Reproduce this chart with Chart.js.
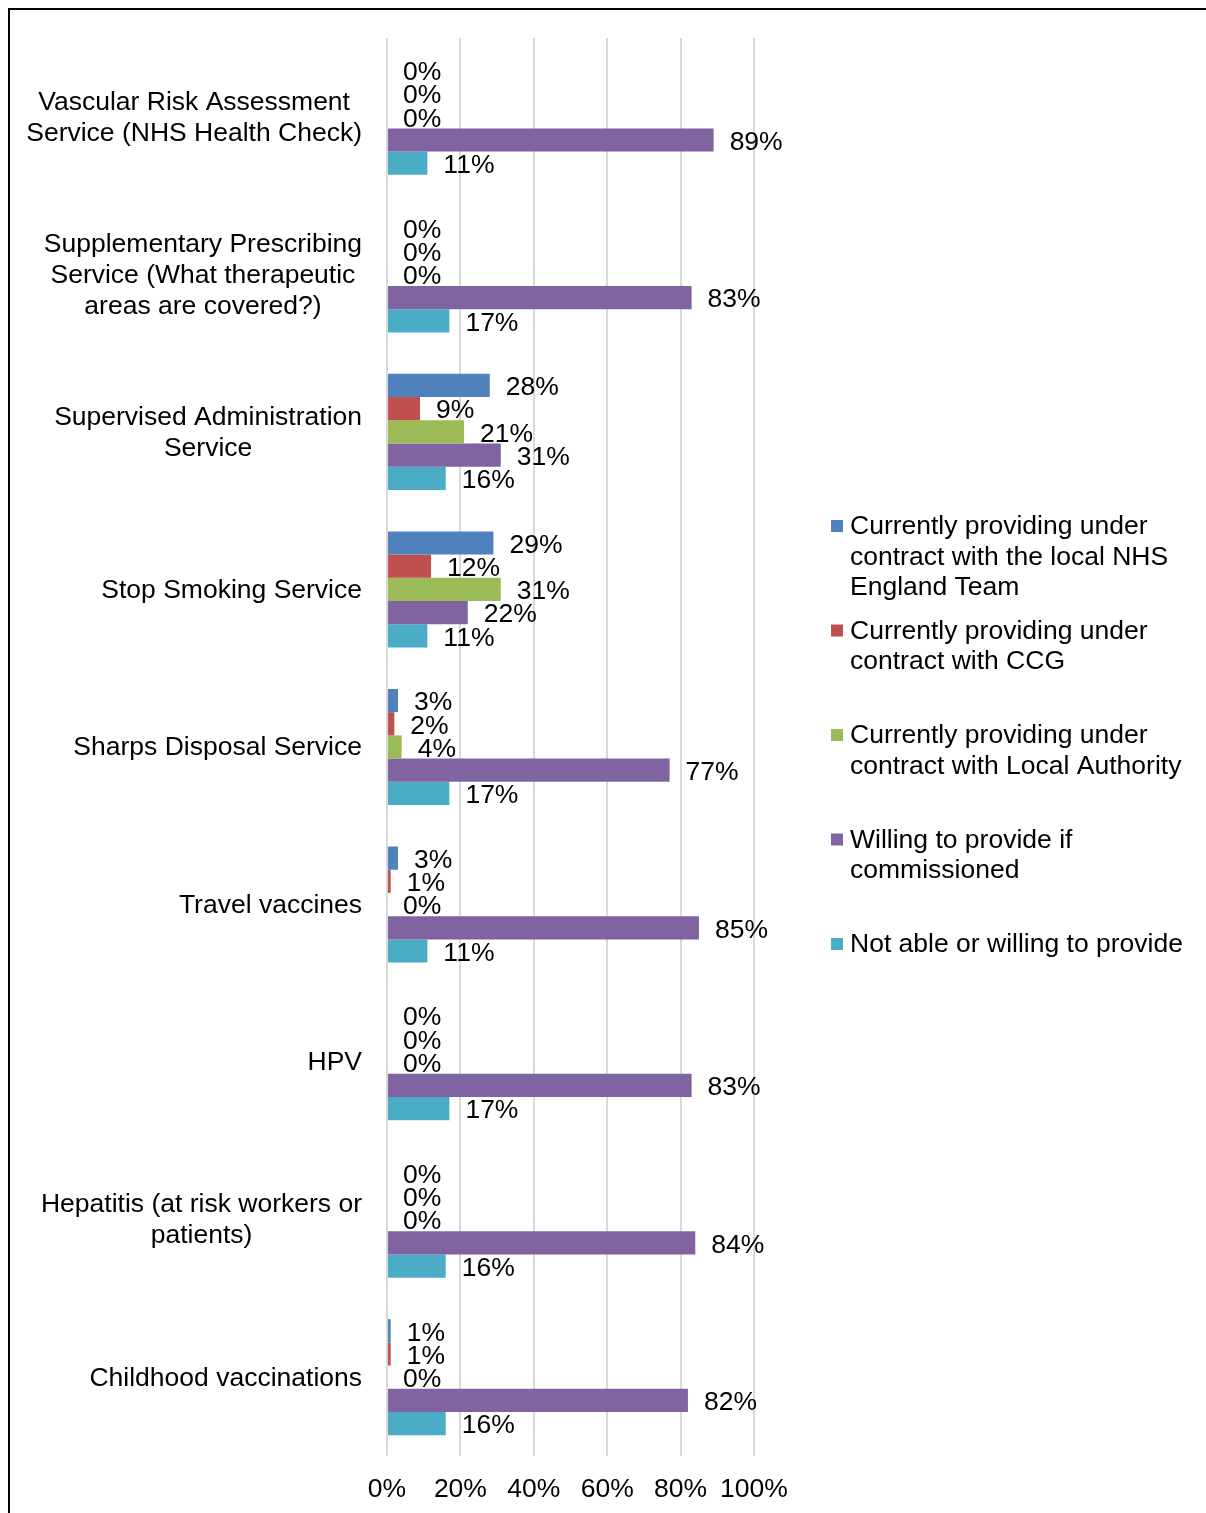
<!DOCTYPE html>
<html>
<head>
<meta charset="utf-8">
<title>Services</title>
<script src="https://cdn.jsdelivr.net/npm/chart.js@4.4.1/dist/chart.umd.min.js"></script>
<style>
  html, body { margin: 0; padding: 0; background: #fff; }
  #wrap { position: relative; width: 1206px; height: 1513px; overflow: hidden; }
  #frame { position: absolute; left: 8px; top: 8px; width: 1400px; height: 1700px;
           border-top: 2px solid #000; border-left: 2px solid #000; pointer-events: none; }
</style>
</head>
<body>
<div id="wrap">
  <canvas id="chart"></canvas>
  <div id="frame"></div>
</div>
<script>
const categories = [
  ["Vascular Risk Assessment", "Service (NHS Health Check)"],
  ["Supplementary Prescribing", "Service (What therapeutic", "areas are covered?)"],
  ["Supervised Administration", "Service"],
  ["Stop Smoking Service"],
  ["Sharps Disposal Service"],
  ["Travel vaccines"],
  ["HPV"],
  ["Hepatitis (at risk workers or", "patients)"],
  ["Childhood vaccinations"]
];

const seriesNames = [
  ["Currently providing under", "contract with the local NHS", "England Team"],
  ["Currently providing under", "contract with CCG"],
  ["Currently providing under", "contract with Local Authority"],
  ["Willing to provide if", "commissioned"],
  ["Not able or willing to provide"]
];

const nhsEngland    = [0, 0, 28, 29, 3, 3, 0, 0, 1];
const ccg           = [0, 0, 9, 12, 2, 1, 0, 0, 1];
const localAuth     = [0, 0, 21, 31, 4, 0, 0, 0, 0];
const willing       = [89, 83, 31, 22, 77, 85, 83, 84, 82];
const notAble       = [11, 17, 16, 11, 17, 11, 17, 16, 16];

const xTicks = [0, 20, 40, 60, 80, 100];

const colors = ["#4F81BD", "#C0504D", "#9BBB59", "#8064A2", "#4BACC6"];
const FONT = '"Liberation Sans", Arial, sans-serif';
const TEXT = "26.5px " + FONT;

const seriesData = [nhsEngland, ccg, localAuth, willing, notAble];

// value labels to the right of each bar
const barLabels = {
  id: "barLabels",
  afterDatasetsDraw(chart) {
    const ctx = chart.ctx;
    ctx.save();
    ctx.font = TEXT;
    ctx.fillStyle = "#000";
    ctx.textAlign = "left";
    ctx.textBaseline = "middle";
    chart.data.datasets.forEach((ds, di) => {
      chart.getDatasetMeta(di).data.forEach((bar, i) => {
        ctx.fillText(ds.data[i] + "%", bar.x + 16, bar.y + 2.5);
      });
    });
    ctx.restore();
  }
};

// category names: lines centred on each other, block right-aligned to the axis
const catLabels = {
  id: "catLabels",
  afterDraw(chart) {
    const ctx = chart.ctx;
    const yScale = chart.scales.y;
    const right = chart.chartArea.left - 25;
    ctx.save();
    ctx.font = TEXT;
    ctx.fillStyle = "#000";
    ctx.textAlign = "center";
    ctx.textBaseline = "middle";
    categories.forEach((lines, i) => {
      const w = Math.max(...lines.map(l => ctx.measureText(l).width));
      const cx = right - w / 2;
      const cy = yScale.getPixelForValue(i);
      lines.forEach((l, k) => {
        ctx.fillText(l, cx, cy + (k - (lines.length - 1) / 2) * 31 + 1);
      });
    });
    ctx.restore();
  }
};

// legend on the right with wrapped entries
const sideLegend = {
  id: "sideLegend",
  afterDraw(chart) {
    const ctx = chart.ctx;
    ctx.save();
    ctx.font = TEXT;
    ctx.textAlign = "left";
    ctx.textBaseline = "middle";
    chart.data.datasets.forEach((ds, i) => {
      const y0 = 526 + i * 104.5;
      ctx.fillStyle = ds.backgroundColor;
      ctx.fillRect(831, y0 - 6, 12, 12);
      ctx.fillStyle = "#000";
      seriesNames[i].forEach((line, k) => {
        ctx.fillText(line, 850, y0 + k * 30.5 + 1);
      });
    });
    ctx.restore();
  }
};

new Chart(document.getElementById("chart"), {
  type: "bar",
  data: {
    labels: categories.map(c => c.join(" ")),
    datasets: seriesData.map((d, i) => ({
      label: seriesNames[i].join(" "),
      data: d,
      backgroundColor: colors[i],
      borderWidth: 0,
      categoryPercentage: 0.737,
      barPercentage: 1.0
    }))
  },
  options: {
    indexAxis: "y",
    responsive: true,
    maintainAspectRatio: false,
    animation: false,
    layout: { padding: { left: 387, right: 452, top: 38, bottom: 0 } },
    plugins: { legend: { display: false }, tooltip: { enabled: false } },
    scales: {
      x: {
        min: 0,
        max: 100,
        afterBuildTicks: s => { s.ticks = xTicks.map(v => ({ value: v })); },
        afterFit: s => { s.height = 57; },
        grid: { color: "#d9d9d9", lineWidth: 2, drawTicks: false },
        border: { display: false },
        ticks: {
          padding: 18,
          color: "#000",
          maxRotation: 0,
          minRotation: 0,
          autoSkip: false,
          font: { family: FONT, size: 26.5 },
          callback: v => v + "%"
        }
      },
      y: {
        display: false
      }
    }
  },
  plugins: [barLabels, catLabels, sideLegend]
});
</script>
</body>
</html>
